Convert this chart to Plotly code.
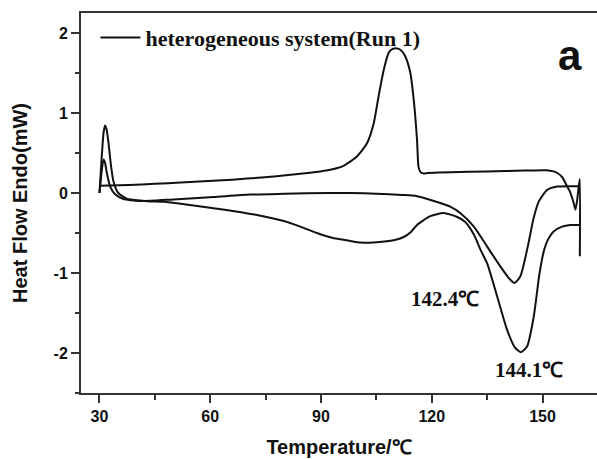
import plotly.graph_objects as go

# Cooling curve (plotted from 160 down to 30 ℃)
cool_T = [160.1, 160.1, 159.8, 159.4, 158.9, 158.4, 158.0, 157.4, 156.7, 155.3, 154.0, 153.0,
          151.0, 145.0, 135.0, 125.0, 119.0, 117.6, 116.9, 116.4, 116.0, 115.1, 114.2, 112.8,
          111.5, 110.1, 109.0, 108.3, 107.0, 105.6, 104.3, 102.5, 99.8, 96.1, 92.5, 89.8,
          84.4, 78.0, 70.0, 62.0, 52.0, 45.0, 38.0, 30.0]
cool_v = [-0.79, 0.175, 0.08, -0.08, -0.21, -0.12, -0.06, 0.02, 0.08, 0.20, 0.25, 0.27,
          0.285, 0.28, 0.27, 0.26, 0.25, 0.245, 0.265, 0.33, 0.67, 1.17, 1.50, 1.71,
          1.79, 1.81, 1.79, 1.75, 1.54, 1.21, 0.875, 0.625, 0.46, 0.34, 0.29, 0.27,
          0.24, 0.21, 0.18, 0.155, 0.13, 0.115, 0.10, 0.09]

# Heating curve with 142.4 ℃ minimum
heatB_T = [30.0, 30.5, 31.1, 31.5, 32.0, 32.9, 34.3, 36.5, 38.5, 41.0, 45.0, 50.0, 60.9, 70.8,
           80.0, 92.5, 98.0, 105.0, 112.0, 116.0, 122.3, 125.0, 127.7, 131.4, 135.0, 138.6,
           141.0, 142.4, 144.0, 146.0, 147.5, 149.0, 151.3, 154.0, 157.0, 160.1]
heatB_v = [0.0, 0.23, 0.42, 0.38, 0.25, 0.08, -0.02, -0.075, -0.09, -0.10, -0.095, -0.08, -0.05, -0.02,
           -0.01, 0.0, 0.0, -0.01, -0.025, -0.04, -0.125, -0.17, -0.25, -0.42, -0.67, -0.92,
           -1.07, -1.125, -1.04, -0.67, -0.33, -0.105, 0.04, 0.08, 0.085, 0.085]

# Heating curve with 144.1 ℃ minimum
heatC_T = [30.0, 30.6, 31.1, 31.5, 31.9, 32.4, 33.1, 33.8, 35.1, 37.4, 41.0, 43.7, 47.3, 53.0,
           60.9, 67.0, 72.0, 79.9, 84.4, 88.9, 93.0, 98.0, 100.7, 105.0, 109.7, 112.4, 114.5,
           116.0, 119.6, 123.2, 126.9, 129.0, 131.4, 133.3, 135.0, 137.7, 140.4, 142.5, 144.1,
           145.8, 147.6, 149.2, 150.5, 151.5, 153.0, 155.3, 157.5, 160.1]
heatC_v = [0.0, 0.44, 0.75, 0.845, 0.80, 0.645, 0.35, 0.145, 0.0, -0.07, -0.095, -0.105, -0.11, -0.14,
           -0.19, -0.23, -0.27, -0.35, -0.42, -0.50, -0.56, -0.60, -0.62, -0.615, -0.59, -0.55, -0.48,
           -0.40, -0.29, -0.25, -0.30, -0.36, -0.52, -0.72, -0.88, -1.29, -1.71, -1.93, -1.99,
           -1.92, -1.55, -1.00, -0.70, -0.58, -0.48, -0.42, -0.40, -0.40]

legend_label = "heterogeneous system(Run 1)"
peak_labels = ["142.4℃", "144.1℃"]
peak_label_T = [123.7, 146.2]
peak_label_v = [-1.33, -2.21]

x_ticks = [30, 60, 90, 120, 150]
y_ticks = [-2, -1, 0, 1, 2]
y_ticktext = ["-2", "-1", "0", "1", "2"]

line_style = dict(color="#111111", width=2, shape="spline", smoothing=0.6)

fig = go.Figure()
fig.add_trace(go.Scatter(x=cool_T, y=cool_v, mode="lines", line=line_style,
                         name=legend_label, showlegend=True))
fig.add_trace(go.Scatter(x=heatB_T, y=heatB_v, mode="lines", line=line_style, showlegend=False))
fig.add_trace(go.Scatter(x=heatC_T, y=heatC_v, mode="lines", line=line_style, showlegend=False))

for txt, tx, ty in zip(peak_labels, peak_label_T, peak_label_v):
    fig.add_annotation(x=tx, y=ty, text=txt, showarrow=False,
                       font=dict(family="Liberation Serif", size=21, color="#111111", weight="bold"))

fig.add_annotation(xref="paper", yref="paper", x=0.975, y=0.955, text="a", showarrow=False,
                   font=dict(family="Liberation Sans", size=42, color="#111111", weight="bold"))

axis_font = dict(family="Liberation Sans", size=16, color="#111111", weight="bold")
title_font = dict(family="Liberation Sans", size=20, color="#111111", weight="bold")

fig.update_layout(
    width=597, height=459,
    margin=dict(l=81, r=0, t=13, b=66),
    paper_bgcolor="white", plot_bgcolor="white",
    showlegend=True,
    legend=dict(x=0.028, y=0.99, xanchor="left", yanchor="top", itemwidth=40,
                bgcolor="rgba(0,0,0,0)",
                font=dict(family="Liberation Serif", size=22, color="#111111", weight="bold")),
    xaxis=dict(range=[25, 164.75], tickmode="array", tickvals=x_ticks,
               showline=True, linecolor="#333333", linewidth=2, mirror=True,
               ticks="outside", ticklen=8, tickwidth=1.5, tickcolor="#333333",
               showgrid=False, zeroline=False, tickfont=axis_font,
               minor=dict(tickmode="linear", tick0=15, dtick=15, ticks="outside",
                          ticklen=5, tickwidth=1.5, tickcolor="#333333"),
               title=dict(text="Temperature/℃", font=title_font, standoff=16)),
    yaxis=dict(range=[-2.5, 2.25], tickmode="array", tickvals=y_ticks, ticktext=y_ticktext,
               showline=True, linecolor="#333333", linewidth=2, mirror=False,
               ticks="outside", ticklen=8, tickwidth=1.5, tickcolor="#333333",
               showgrid=False, zeroline=False, tickfont=axis_font,
               minor=dict(tickmode="linear", tick0=-2.5, dtick=0.5, ticks="outside",
                          ticklen=4, tickwidth=1.5, tickcolor="#333333"),
               title=dict(text="Heat Flow Endo(mW)", font=title_font, standoff=21)),
)

fig.write_html("out.html")
